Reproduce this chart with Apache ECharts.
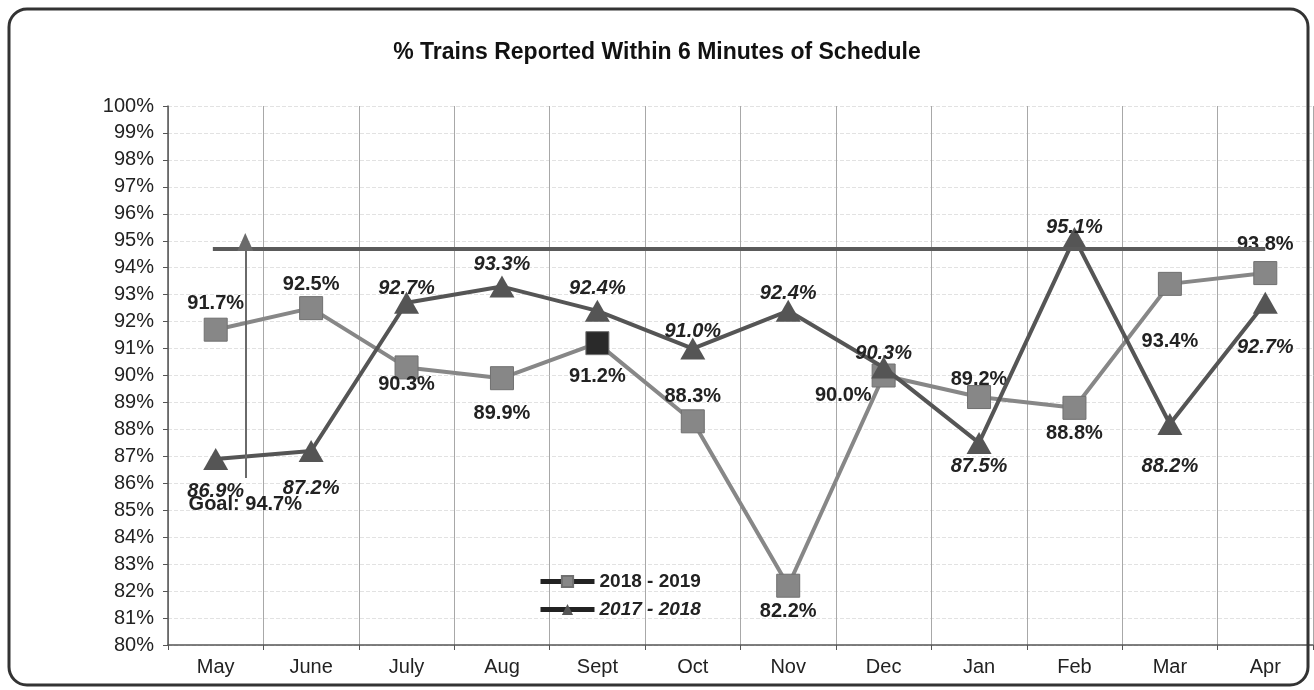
<!DOCTYPE html>
<html><head><meta charset="utf-8">
<script src="https://cdn.jsdelivr.net/npm/echarts@6/dist/echarts.min.js"></script>
<style>html,body{margin:0;padding:0;background:#fff}#c{width:1314px;height:690px}</style>
</head><body><div id="c"></div>
<script>
const categories = ['May','June','July','Aug','Sept','Oct','Nov','Dec','Jan','Feb','Mar','Apr'];
const s2018_2019 = [91.7, 92.5, 90.3, 89.9, 91.2, 88.3, 82.2, 90.0, 89.2, 88.8, 93.4, 93.8];
const s2017_2018 = [86.9, 87.2, 92.7, 93.3, 92.4, 91.0, 92.4, 90.3, 87.5, 95.1, 88.2, 92.7];
const goal = 94.7;

// label placement (style only)
const pos2018 = ['top','top','bottom','bottom','bottom','top','bottom','left','top','bottom','bottom','top'];
const dist2018 = [4, 2, -5, 13, 11, 3, 4, 0, -4, 4, 36, 7];
const pos2017 = ['bottom','bottom','top','top','top','top','top','top','bottom','top','bottom','bottom'];
const dist2017 = [11, 17, -7, 1, 1, -4, -4, -7, 3, -10, 21, 24];
const goalLineX = [-0.03, 11.0];
const goalArrow = {x: 0.31, from: 86.2, to: 94.95};

const F = 'Liberation Sans, Arial, sans-serif';
const c1 = '#878787', c2 = '#555555';
const chart = echarts.init(document.getElementById('c'));
const lbl = (p, d, italic) => ({show:true, position:p, distance:d, offset: p==='left'?[0,20]:[0,0],
  formatter: v => v.value.toFixed(1)+'%',
  fontFamily:F, fontSize:20, fontWeight:'bold', fontStyle: italic?'italic':'normal', color:'#222'});
chart.setOption({
  animation:false,
  title:{text:'% Trains Reported Within 6 Minutes of Schedule', left:'center', top:36,
    textStyle:{fontFamily:F, fontSize:23, fontWeight:'bold', color:'#111'}},
  grid:{left:168, right:1, top:106, bottom:45},
  legend:{orient:'vertical', left:533, top:567, itemGap:9, itemWidth:54, itemHeight:14,
    textStyle:{fontFamily:F, fontSize:19, fontWeight:'bold', color:'#222'},
    data:[{name:'2018 - 2019', lineStyle:{color:'#222', width:5}},
          {name:'2017 - 2018', lineStyle:{color:'#222', width:5}, textStyle:{fontStyle:'italic'}}]},
  xAxis:[{type:'category', data:categories, boundaryGap:true,
    axisLine:{lineStyle:{color:'#555', width:1.5}}, axisTick:{show:true, lineStyle:{color:'#555'}},
    axisLabel:{fontFamily:F, fontSize:20, color:'#222', margin:12},
    splitLine:{show:true, lineStyle:{color:'#a8a8a8', width:1}}},
    {type:'value', min:-0.5, max:11.5, show:false}],
  yAxis:{type:'value', min:80, max:100, interval:1,
    axisLine:{show:true, onZero:false, lineStyle:{color:'#555', width:1.5}}, axisTick:{show:true, lineStyle:{color:'#555'}},
    axisLabel:{fontFamily:F, fontSize:20, color:'#222', formatter: v => v+'%', margin:14},
    splitLine:{show:true, lineStyle:{color:'#e2e2e2', type:'dashed', width:1}}},
  series:[
    {name:'2018 - 2019', type:'line', data:s2018_2019.map((v,i)=>({value:v, label:lbl(pos2018[i], dist2018[i], false),
        itemStyle: i===4 ? {color:'#2a2a2a'} : undefined})),
      symbol:'rect', symbolSize:23, lineStyle:{color:c1, width:4}, itemStyle:{color:c1, borderColor:'#707070', borderWidth:1}, z:3},
    {name:'2017 - 2018', type:'line', data:s2017_2018.map((v,i)=>({value:v, label:lbl(pos2017[i], dist2017[i], true)})),
      symbol:'triangle', symbolSize:[25,22], lineStyle:{color:c2, width:4}, itemStyle:{color:c2}, z:4},
    {name:'goal', type:'line', xAxisIndex:1, data:[], silent:true,
      markLine:{silent:true, symbol:'none', label:{show:false}, animation:false,
        lineStyle:{color:'#5a5a5a', width:4, type:'solid'},
        data:[[{coord:[goalLineX[0], goal]},{coord:[goalLineX[1], goal]}]]}},
    {name:'goalArrow', type:'line', xAxisIndex:1, data:[], silent:true,
      markLine:{silent:true, symbol:['none','triangle'], symbolSize:[16,18], animation:false,
        lineStyle:{color:'#6a6a6a', width:2, type:'solid'},
        label:{show:true, position:'start', formatter:'Goal: 94.7%', fontFamily:F, fontSize:20, fontWeight:'bold', color:'#222', distance:17},
        data:[[{coord:[goalArrow.x, goalArrow.from]},{coord:[goalArrow.x, goalArrow.to]}]]}}
  ],
  graphic:[{type:'rect', shape:{x:9, y:9, width:1299, height:676, r:18}, style:{fill:'none', stroke:'#333', lineWidth:3}, z:100}]
});
</script></body></html>
